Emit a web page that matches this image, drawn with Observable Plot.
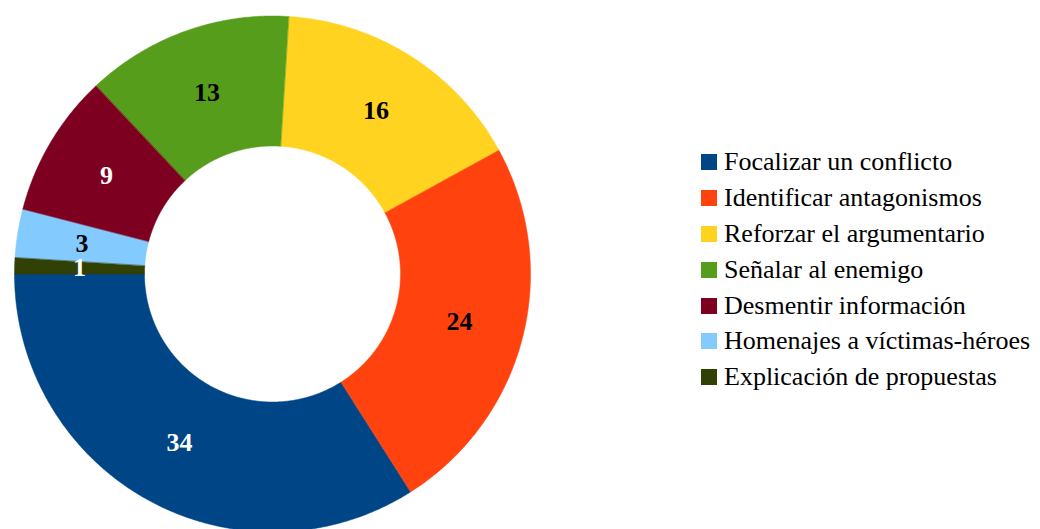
<!DOCTYPE html>
<html><head><meta charset="utf-8">
<script src="https://cdn.jsdelivr.net/npm/d3@7"></script>
<script src="https://cdn.jsdelivr.net/npm/@observablehq/plot@0.6"></script>
<style>
body{margin:0;background:#fff;}
#wrap{position:relative;width:1040px;height:529px;overflow:hidden;}
#legend{position:absolute;left:701px;top:144.5px;font-size:26px;color:#000;}
.row{display:flex;align-items:center;height:35.8px;white-space:nowrap;}
.sw{width:16px;height:16px;margin-right:7px;flex:none;}
</style></head><body><div id="wrap"></div>
<script>
const categories = ["Focalizar un conflicto","Identificar antagonismos","Reforzar el argumentario","Señalar al enemigo","Desmentir información","Homenajes a víctimas-héroes","Explicación de propuestas"];
const values = [34, 24, 16, 13, 9, 3, 1];
const colors = ["#004586","#ff420e","#ffd320","#579d1c","#7e0021","#83caff","#314004"];
const labelColors = ["white","black","black","black","white","black","white"];

const cx = 272, cy = 273.5, R = 258, rIn = 128;
const inner = rIn / R, mid = 193 / R;

const pie = d3.pie().sort(null).startAngle(3 * Math.PI / 2).endAngle(-Math.PI / 2);
const arcs = pie(values);

const pts = [];
const labels = [];
arcs.forEach((a, i) => {
  const cat = categories[i];
  const n = Math.max(8, Math.ceil(Math.abs(a.endAngle - a.startAngle) * 120));
  for (let k = 0; k <= n; k++) {
    const t = a.startAngle + (a.endAngle - a.startAngle) * k / n;
    pts.push({cat, x: Math.sin(t), y: Math.cos(t)});
  }
  for (let k = n; k >= 0; k--) {
    const t = a.startAngle + (a.endAngle - a.startAngle) * k / n;
    pts.push({cat, x: inner * Math.sin(t), y: inner * Math.cos(t)});
  }
  const m = (a.startAngle + a.endAngle) / 2;
  labels.push({cat, value: values[i], x: mid * Math.sin(m), y: mid * Math.cos(m), lc: labelColors[i]});
});

const serif = "'Liberation Serif', 'Times New Roman', serif";

const chart = Plot.plot({
  width: 1040,
  height: 529,
  margin: 0,
  x: {domain: [-1, 1], range: [cx - R, cx + R], axis: null},
  y: {domain: [-1, 1], range: [cy + R, cy - R], axis: null},
  color: {domain: categories, range: colors},
  style: {background: "white"},
  marks: [
    Plot.line(pts, {x: "x", y: "y", z: "cat", fill: "cat", stroke: "cat", strokeWidth: 0.5, curve: "linear-closed"}),
    Plot.text(labels.filter(d => d.lc === "white"), {x: "x", y: "y", text: d => String(d.value), fill: "white", fontSize: 26, fontWeight: "bold", fontFamily: serif}),
    Plot.text(labels.filter(d => d.lc === "black"), {x: "x", y: "y", text: d => String(d.value), fill: "black", fontSize: 26, fontWeight: "bold", fontFamily: serif})
  ]
});

const wrap = document.getElementById("wrap");
wrap.appendChild(chart);
const legend = document.createElement("div");
legend.id = "legend";
legend.style.fontFamily = serif;
categories.forEach((c, i) => {
  const row = document.createElement("div");
  row.className = "row";
  const sw = document.createElement("span");
  sw.className = "sw";
  sw.style.background = colors[i];
  const tx = document.createElement("span");
  tx.textContent = c;
  tx.style.fontFamily = serif;
  row.appendChild(sw);
  row.appendChild(tx);
  legend.appendChild(row);
});
wrap.appendChild(legend);
</script></body></html>
